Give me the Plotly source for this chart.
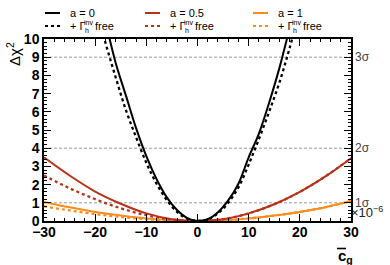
import plotly.graph_objects as go

# ---------------- data ----------------
x_black = [-18, -16, -14, -12, -10, -8, -6, -4, -2, 0, 2, 4, 6, 8, 10, 12, 14, 16, 18]
y_black = [11.0, 8.7, 6.9, 5.1, 3.56, 2.3, 1.3, 0.6, 0.16, 0, 0.1, 0.48, 1.13, 2.05, 3.5, 4.8, 6.5, 8.4, 10.6]

x_black_free = [-20, -18, -16, -14, -12, -10, -8, -6, -4, -2, 0, 2, 4, 6, 8, 10, 12, 14, 16, 18, 20]
y_black_free = [11.8, 9.8, 7.9, 6.1, 4.6, 3.2, 2.05, 1.15, 0.5, 0.13, 0, 0.09, 0.42, 1.0, 1.85, 3.1, 4.5, 6.0, 7.6, 9.5, 11.6]

x_ab = [-30, -25, -20, -15, -10, -5, 0, 5, 10, 15, 20, 25, 30]
y_red = [3.5, 2.5, 1.62, 0.95, 0.42, 0.1, 0, 0.1, 0.42, 0.92, 1.6, 2.45, 3.45]
y_red_free = [2.5, 1.8, 1.2, 0.7, 0.32, 0.08, 0, 0.1, 0.42, 0.92, 1.6, 2.45, 3.45]
y_orange = [1.05, 0.75, 0.5, 0.3, 0.14, 0.04, 0, 0.04, 0.14, 0.3, 0.5, 0.76, 1.1]
y_orange_free = [0.8, 0.58, 0.38, 0.22, 0.1, 0.03, 0, 0.04, 0.14, 0.3, 0.5, 0.76, 1.1]

sigma_levels = [1, 4, 9]
sigma_labels = ["1σ", "2σ", "3σ"]
x_range = [-30, 30]

legend_labels = ["a = 0", "a = 0.5", "a = 1"]

# ---------------- style ----------------
BLACK = "#000000"
RED = "#b8321a"
ORANGE = "#ff8c1a"
FONT = "Liberation Sans, Arial, sans-serif"

W, H = 390, 265
L, R, T, B = 44, 39, 39, 44
PW, PH = W - L - R, H - T - B


def px(xp):
    return (xp - L) / PW


def py(yp):
    return (H - B - yp) / PH


fig = go.Figure()

# sigma reference lines
for lv in sigma_levels:
    fig.add_trace(go.Scatter(x=x_range, y=[lv, lv], mode="lines",
                             line=dict(color="#9a9a9a", width=1, dash="3px,2px"),
                             showlegend=False, hoverinfo="skip"))

series = [
    (x_ab, y_orange_free, ORANGE, "dot"),
    (x_ab, y_orange, ORANGE, "solid"),
    (x_ab, y_red_free, RED, "dot"),
    (x_ab, y_red, RED, "solid"),
    (x_black_free, y_black_free, BLACK, "dot"),
    (x_black, y_black, BLACK, "solid"),
]
for xs, ys, col, dash in series:
    fig.add_trace(go.Scatter(x=xs, y=ys, mode="lines",
                             line=dict(color=col, width=2 if dash == "solid" else 2.3,
                                       dash=dash, shape="spline", smoothing=1.0),
                             showlegend=False, hoverinfo="skip"))

annotations = []
shapes = []

# Legend (manual, 3 columns x 2 rows)
cols = [45, 145, 253]
colors = [BLACK, RED, ORANGE]
for cx, col, lab in zip(cols, colors, legend_labels):
    shapes.append(dict(type="line", xref="paper", yref="paper",
                       x0=px(cx), x1=px(cx + 15), y0=py(13), y1=py(13),
                       line=dict(color=col, width=2)))
    shapes.append(dict(type="line", xref="paper", yref="paper",
                       x0=px(cx), x1=px(cx + 15), y0=py(26), y1=py(26),
                       line=dict(color=col, width=2, dash="dot")))
    annotations.append(dict(xref="paper", yref="paper", x=px(cx + 23), y=py(13),
                            text=lab, showarrow=False, xanchor="left", yanchor="middle",
                            font=dict(family=FONT, size=11, color="#000000")))
    annotations.append(dict(xref="paper", yref="paper", x=px(cx + 23), y=py(26),
                            text="+ Γ", showarrow=False, xanchor="left", yanchor="middle",
                            font=dict(family=FONT, size=11, color="#000000")))
    annotations.append(dict(xref="paper", yref="paper", x=px(cx + 37), y=py(22),
                            text="inv", showarrow=False, xanchor="left", yanchor="middle",
                            font=dict(family=FONT, size=7, color="#000000")))
    annotations.append(dict(xref="paper", yref="paper", x=px(cx + 38), y=py(31),
                            text="h", showarrow=False, xanchor="left", yanchor="middle",
                            font=dict(family=FONT, size=7, color="#000000")))
    annotations.append(dict(xref="paper", yref="paper", x=px(cx + 48), y=py(26),
                            text="free", showarrow=False, xanchor="left", yanchor="middle",
                            font=dict(family=FONT, size=11, color="#000000")))

# sigma labels on right
for lv, lab in zip(sigma_levels, sigma_labels):
    annotations.append(dict(xref="paper", yref="y", x=px(353), y=lv, text=lab,
                            showarrow=False, xanchor="left", yanchor="middle",
                            font=dict(family=FONT, size=12, color="#444444")))

# x10^-6 label
annotations.append(dict(xref="paper", yref="paper", x=px(349), y=py(212),
                        text="×10<sup>−6</sup>", showarrow=False, xanchor="left",
                        yanchor="middle", font=dict(family=FONT, size=13, color="#222222")))

# x-axis title: c-bar subscript g
annotations.append(dict(xref="paper", yref="paper", x=px(336), y=py(256),
                        text="<b>c</b><sub><b>g</b></sub>", showarrow=False, xanchor="left",
                        yanchor="middle", font=dict(family=FONT, size=15, color="#000000")))
shapes.append(dict(type="line", xref="paper", yref="paper",
                   x0=px(337), x1=px(346), y0=py(248.5), y1=py(248.5),
                   line=dict(color="black", width=1.6)))

# y-axis title
annotations.append(dict(xref="paper", yref="paper", x=px(13), y=py(40),
                        text="Δχ<sup>2</sup>", showarrow=False, textangle=-90,
                        xanchor="center", yanchor="top",
                        font=dict(family=FONT, size=15, color="#000000")))

axis_common = dict(showline=True, linecolor="black", linewidth=1.5, mirror="ticks",
                   ticks="inside", tickcolor="black", tickwidth=1, ticklen=7,
                   showgrid=False, zeroline=False,
                   tickfont=dict(family=FONT, size=14, color="black", weight="bold"))

fig.update_layout(
    width=W, height=H,
    margin=dict(l=L, r=R, t=T, b=B),
    plot_bgcolor="white", paper_bgcolor="white",
    showlegend=False,
    xaxis=dict(range=x_range, tick0=-30, dtick=10, tickformat="d", ticklabelstandoff=-3,
               minor=dict(dtick=2, ticks="inside", ticklen=3.5, tickcolor="black", tickwidth=1),
               **axis_common),
    yaxis=dict(range=[0, 10], tick0=0, dtick=1,
               minor=dict(dtick=0.2, ticks="inside", ticklen=3.5, tickcolor="black", tickwidth=1),
               **axis_common),
    annotations=annotations,
    shapes=shapes,
)

fig.write_html("out.html", config={"displayModeBar": False},
               post_script="document.body.style.margin='0';document.body.style.padding='0';")
